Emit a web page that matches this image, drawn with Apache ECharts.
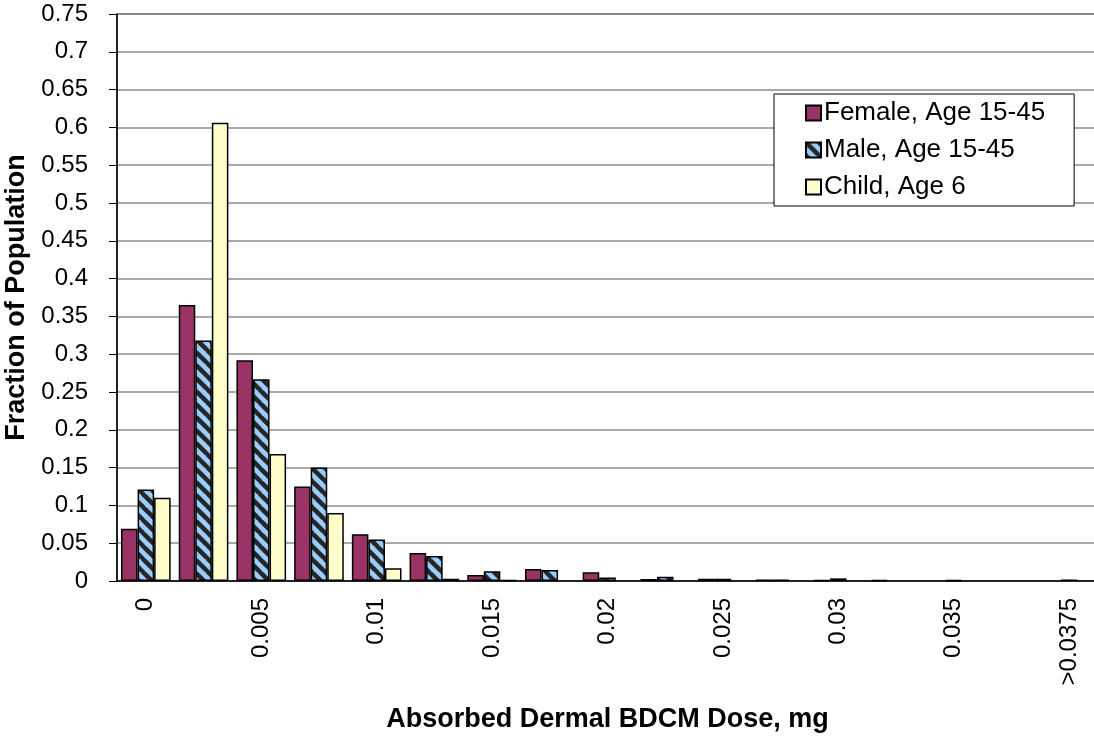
<!DOCTYPE html>
<html>
<head>
<meta charset="utf-8">
<script src="https://cdn.jsdelivr.net/npm/echarts@6/dist/echarts.min.js"></script>
<style>
  html, body { margin: 0; padding: 0; background: #fff; }
  #chart { width: 1094px; height: 742px; }
</style>
</head>
<body>
<div id="chart"></div>
<script>
// Dose bins (mg), one bar group per bin
const categories = ['0', '0.0025', '0.005', '0.0075', '0.01', '0.0125', '0.015', '0.0175',
  '0.02', '0.0225', '0.025', '0.0275', '0.03', '0.0325', '0.035', '0.0375', '>0.0375'];

// Fraction of population in each bin
const female = [0.069, 0.365, 0.292, 0.125, 0.062, 0.037, 0.008, 0.016, 0.0115, 0.0026,
  0.003, 0.002, 0.001, 0.0013, 0, 0, 0];
const male = [0.121, 0.318, 0.267, 0.150, 0.055, 0.033, 0.013, 0.0145, 0.0045, 0.0057,
  0.003, 0.002, 0.0035, 0, 0.001, 0, 0.002];
const child = [0.110, 0.606, 0.168, 0.090, 0.017, 0.003, 0.001, 0, 0, 0,
  0, 0, 0, 0, 0, 0, 0];

const seriesNames = ['Female, Age 15-45', 'Male, Age 15-45', 'Child, Age 6'];

// Light blue fill with dark diagonal hatching for the male series
function hatchPattern() {
  const s = 13;
  const c = document.createElement('canvas');
  c.width = s; c.height = s;
  const g = c.getContext('2d');
  g.fillStyle = '#99CCFF';
  g.fillRect(0, 0, s, s);
  g.strokeStyle = '#262626';
  g.lineWidth = 4.5;
  g.beginPath();
  for (const k of [-s, 0, s]) {
    g.moveTo(k - 1, -1);
    g.lineTo(k + s + 1, s + 1);
  }
  g.stroke();
  return c;
}

const hideZero = arr => arr.map(v => (v === 0 ? null : v));

const font = '"Liberation Sans", Arial, sans-serif';
const chart = echarts.init(document.getElementById('chart'), null, { renderer: 'canvas' });

const barStyle = (color) => ({ color: color, borderColor: '#000', borderWidth: 1.5 });

chart.setOption({
  animation: false,
  backgroundColor: '#fff',
  textStyle: { fontFamily: font },
  grid: {
    left: 117, top: 14, width: 981, bottom: 161,
    containLabel: false,
    outerBoundsMode: 'none',
    show: true, borderColor: '#000', borderWidth: 1, backgroundColor: '#fff'
  },
  legend: {
    orient: 'vertical',
    left: 774, top: 94,
    padding: [6, 29, 6, 31],
    itemGap: 11,
    itemWidth: 15, itemHeight: 15,
    icon: 'rect',
    borderColor: '#000', borderWidth: 1,
    backgroundColor: '#fff',
    textStyle: { fontFamily: font, fontSize: 26, lineHeight: 26, color: '#000', padding: [0, 0, 0, -2] },
    data: seriesNames
  },
  xAxis: {
    type: 'category',
    data: categories,
    name: 'Absorbed Dermal BDCM Dose, mg',
    nameLocation: 'middle',
    nameGap: 125,
    nameTextStyle: { fontFamily: font, fontSize: 27, fontWeight: 'bold', color: '#000' },
    axisLine: { lineStyle: { color: '#000', width: 1.5 } },
    axisTick: { interval: 0, length: 8, lineStyle: { color: '#000', width: 1 } },
    axisLabel: { interval: 1, rotate: 90, margin: 17, fontFamily: font, fontSize: 24, color: '#000' },
    splitLine: { show: false }
  },
  yAxis: {
    type: 'value',
    min: 0, max: 0.75, interval: 0.05,
    name: 'Fraction of Population',
    nameLocation: 'middle',
    nameGap: 83,
    nameTextStyle: { fontFamily: font, fontSize: 27, fontWeight: 'bold', color: '#000' },
    axisLine: { show: true, lineStyle: { color: '#000', width: 1.5 } },
    axisTick: { show: true, length: 8, lineStyle: { color: '#000', width: 1 } },
    axisLabel: { margin: 29, fontFamily: font, fontSize: 24, color: '#000' },
    splitLine: { lineStyle: { color: '#8c8c8c', width: 1.5 } }
  },
  series: [
    { name: seriesNames[0], type: 'bar', data: hideZero(female), barGap: '0%', barCategoryGap: '14%',
      itemStyle: barStyle('#993366') },
    { name: seriesNames[1], type: 'bar', data: hideZero(male), barGap: '0%', barCategoryGap: '14%',
      itemStyle: barStyle({ image: hatchPattern(), repeat: 'repeat' }) },
    { name: seriesNames[2], type: 'bar', data: hideZero(child), barGap: '0%', barCategoryGap: '14%',
      itemStyle: barStyle('#FFFFCC') }
  ]
});
</script>
</body>
</html>
